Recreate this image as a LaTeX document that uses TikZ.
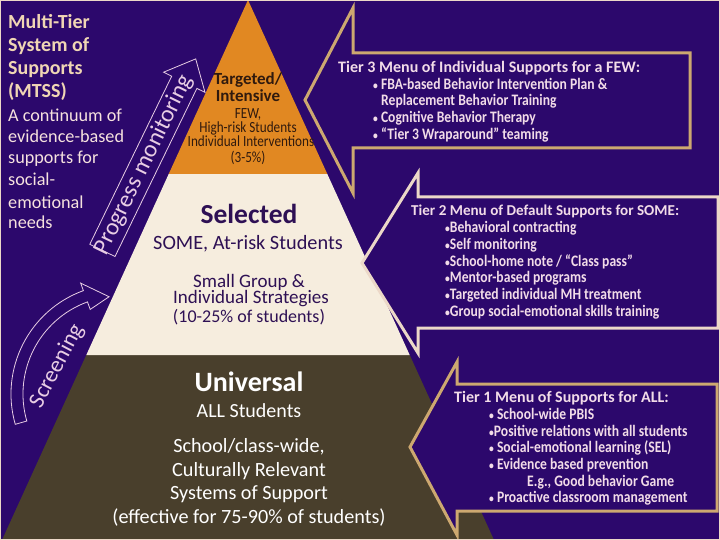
\documentclass[tikz,border=0pt]{standalone}
\usepackage{fontspec}
\setmainfont{Carlito}
\newfontfamily\condfont[FakeStretch=0.85]{Carlito}
\newcommand\myfs[1]{\fontsize{#1}{#1}\selectfont}
\newcommand\bul{\scalebox{0.7}{•}}
\definecolor{bgp}{RGB}{44,8,108}
\definecolor{orng}{RGB}{225,136,34}
\definecolor{crm}{RGB}{246,237,222}
\definecolor{olv}{RGB}{73,63,44}
\definecolor{tanl}{RGB}{205,168,112}
\definecolor{crml}{RGB}{236,216,200}
\definecolor{ttl}{RGB}{240,214,180}
\definecolor{pinkw}{RGB}{246,226,222}
\definecolor{calltxt}{RGB}{242,220,232}
\definecolor{arrowl}{RGB}{232,205,228}
\definecolor{darkbr}{RGB}{48,26,14}
\definecolor{darkpu}{RGB}{46,16,84}
\begin{document}
\begin{tikzpicture}[x=1pt,y=-1pt,
  txt/.style={inner sep=0pt, anchor=base},
  ltxt/.style={inner sep=0pt, anchor=base west},
  callout/.style={fill=bgp, line width=3pt, line join=miter},
  outl/.style={draw=arrowl, line width=0.8pt, fill=bgp, line join=miter}]
\useasboundingbox (0,0) rectangle (720,540);
\fill[bgp] (0,0) rectangle (720,540);
% pyramid
\fill[olv] (2,540) -- (86.3,355) -- (409.7,355) -- (494,540) -- cycle;
\fill[crm] (86.3,355) -- (168.7,174) -- (327.3,174) -- (409.7,355) -- cycle;
\fill[orng] (168.7,174) -- (248,0) -- (327.3,174) -- cycle;
% progress monitoring arrow
\draw[outl] (195.7,58.9) -- (205,92.4) -- (196.9,88.4) -- (115,256.5) -- (89.8,244.3) -- (171.7,76.2) -- (163.6,72.2) -- cycle;
\node[rotate=64, text=arrowl, inner sep=0pt] (pm) at (144,165) {\myfs{24}Progress monitoring};
% screening arrow
\begin{scope}[shift={(121,394)}]
\draw[outl, fill=none] (164:110) arc[start angle=164, end angle=250, radius=110] -- (250:118) -- (263:98) -- (250:90) -- (250:98) arc[start angle=250, end angle=164, radius=98] -- cycle;
\end{scope}
\node[rotate=62, text=arrowl, inner sep=0pt] (scr) at (57,366) {\myfs{23}Screening};
% left text
\node[ltxt, text=ttl] (l1) at (8,29) {\myfs{20}\bfseries Multi-Tier};
\node[ltxt, text=ttl] (l2) at (8,52) {\myfs{20}\bfseries System of};
\node[ltxt, text=ttl] (l3) at (8,75) {\myfs{20}\bfseries Supports};
\node[ltxt, text=ttl] (l4) at (8,98) {\myfs{20}\bfseries (MTSS)};
\node[ltxt, text=pinkw] (l5) at (8,122) {\myfs{18.2}A continuum of};
\node[ltxt, text=pinkw] (l6) at (8,143) {\myfs{18.2}evidence-based};
\node[ltxt, text=pinkw] (l7) at (8,164) {\myfs{18.2}supports for};
\node[ltxt, text=pinkw] (l8) at (8,186) {\myfs{18.2}social-};
\node[ltxt, text=pinkw] (l9) at (8,208) {\myfs{18.2}emotional};
\node[ltxt, text=pinkw] (l10) at (8,229) {\myfs{18.2}needs};
% tier 3 pyramid text
\node[txt, text=darkbr] (p1) at (248,85) {\myfs{17}\bfseries Targeted/};
\node[txt, text=darkbr] (p2) at (248,102) {\myfs{17}\bfseries Intensive};
\node[txt, text=darkbr] (p3) at (248,118.5) {\condfont\myfs{15.5}FEW,};
\node[txt, text=darkbr] (p4) at (248,132.5) {\condfont\myfs{15.5}High-risk Students};
\node[txt, text=darkbr] (p5) at (251,147) {\condfont\myfs{15.5}Individual Interventions};
\node[txt, text=darkbr] (p6) at (248,162.5) {\condfont\myfs{15.5}(3-5\%)};
% tier 2 pyramid text
\node[txt, text=darkpu] (s1) at (249,223) {\myfs{27.5}\bfseries Selected};
\node[txt, text=darkpu] (s2) at (248,249.5) {\myfs{20.3}SOME, At-risk Students};
\node[txt, text=darkpu] (s3) at (249,287) {\myfs{19}Small Group \&};
\node[txt, text=darkpu] (s4) at (251,303) {\myfs{19}Individual Strategies};
\node[txt, text=darkpu] (s5) at (249,322) {\myfs{18}(10-25\% of students)};
% tier 1 pyramid text
\node[txt, text=white] (u1) at (249,391.5) {\myfs{28}\bfseries Universal};
\node[txt, text=white] (u2) at (249,417.5) {\myfs{20}ALL Students};
\node[txt, text=white] (u3) at (249,452) {\myfs{20.2}School/class-wide,};
\node[txt, text=white] (u4) at (249,476) {\myfs{20.2}Culturally Relevant};
\node[txt, text=white] (u5) at (249,499.5) {\myfs{20.2}Systems of Support};
\node[txt, text=white] (u6) at (249,523.5) {\myfs{20.2}(effective for 75-90\% of students)};
% callouts
\draw[callout, draw=tanl] (690,53) -- (353,53) -- (353,8) -- (305,100) -- (353,193) -- (353,148) -- (690,148) -- cycle;
\draw[callout, draw=crml] (718,197) -- (418,197) -- (418,173) -- (362,263) -- (418,353) -- (418,328) -- (718,328) -- cycle;
\draw[callout, draw=tanl] (717,384) -- (457,384) -- (457,362) -- (410,447) -- (457,535) -- (457,511) -- (717,511) -- cycle;
% tier 3 menu
\node[ltxt, text=calltxt] (a0) at (338,72.5) {\myfs{16}\bfseries Tier 3 Menu of Individual Supports for a FEW:};
\node[ltxt, text=calltxt] (a1) at (373,89.5) {\condfont\myfs{16}\bfseries \bul{} FBA-based Behavior Intervention Plan \&};
\node[ltxt, text=calltxt] (a2) at (381,106) {\condfont\myfs{16}\bfseries Replacement Behavior Training};
\node[ltxt, text=calltxt] (a3) at (373,123) {\condfont\myfs{16}\bfseries \bul{} Cognitive Behavior Therapy};
\node[ltxt, text=calltxt] (a4) at (373,140) {\condfont\myfs{16}\bfseries \bul{} “Tier 3 Wraparound” teaming};
% tier 2 menu
\node[ltxt, text=calltxt] (b0) at (411,215) {\myfs{15.1}\bfseries Tier 2 Menu of Default Supports for SOME:};
\node[ltxt, text=calltxt] (b1) at (445,232.5) {\condfont\myfs{16}\bfseries \bul Behavioral contracting};
\node[ltxt, text=calltxt] (b2) at (445,249) {\condfont\myfs{16}\bfseries \bul Self monitoring};
\node[ltxt, text=calltxt] (b3) at (445,266) {\condfont\myfs{16}\bfseries \bul School-home note / “Class pass”};
\node[ltxt, text=calltxt] (b4) at (445,282.5) {\condfont\myfs{16}\bfseries \bul Mentor-based programs};
\node[ltxt, text=calltxt] (b5) at (445,299) {\condfont\myfs{16}\bfseries \bul Targeted individual MH treatment};
\node[ltxt, text=calltxt] (b6) at (445,316.5) {\condfont\myfs{16}\bfseries \bul Group social-emotional skills training};
% tier 1 menu
\node[ltxt, text=calltxt] (c0) at (454,402.5) {\myfs{16}\bfseries Tier 1 Menu of Supports for ALL:};
\node[ltxt, text=calltxt] (c1) at (489,419) {\condfont\myfs{16}\bfseries \bul{} School-wide PBIS};
\node[ltxt, text=calltxt] (c2) at (489,436) {\condfont\myfs{16}\bfseries \bul Positive relations with all students};
\node[ltxt, text=calltxt] (c3) at (489,452.5) {\condfont\myfs{16}\bfseries \bul{} Social-emotional learning (SEL)};
\node[ltxt, text=calltxt] (c4) at (489,469) {\condfont\myfs{16}\bfseries \bul{} Evidence based prevention};
\node[ltxt, text=calltxt] (c5) at (527,486) {\condfont\myfs{16}\bfseries E.g., Good behavior Game};
\node[ltxt, text=calltxt] (c6) at (489,502.5) {\condfont\myfs{16}\bfseries \bul{} Proactive classroom management};
% frame
\draw[draw=crml, line width=1.2pt] (0.6,0.6) rectangle (719.4,539.4);
\end{tikzpicture}
\end{document}
